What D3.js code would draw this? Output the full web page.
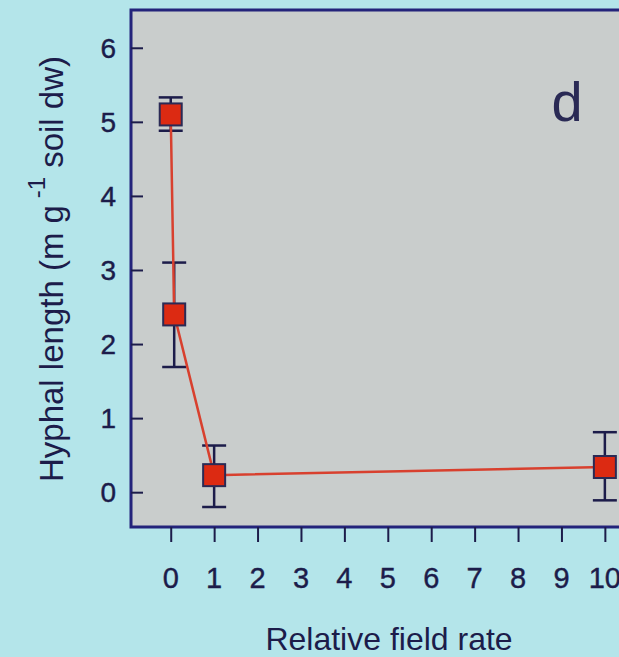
<!DOCTYPE html>
<html><head><meta charset="utf-8">
<script src="https://cdn.jsdelivr.net/npm/d3@7"></script>
<style>body{margin:0;background:#b4e5ea;overflow:hidden}svg{display:block}</style>
</head><body>
<svg id="c" width="619" height="657"></svg>
<script>
const xValues = [0, 0.08, 1, 10];
const yValues = [5.1, 2.4, 0.23, 0.34];
const errLow = [4.88, 1.69, -0.2, -0.11];
const errHigh = [5.33, 3.1, 0.63, 0.81];
const xTicks = [0,1,2,3,4,5,6,7,8,9,10];
const yTicks = [0,1,2,3,4,5,6];
const xTitle = "Relative field rate";
const panelLabel = "d";

const svg = d3.select("#c");
const L = 131, T = 10, R = 660, B = 527;
const x = d3.scaleLinear().domain([-0.915, 11.27]).range([L, R]);
const y = d3.scaleLinear().domain([-0.47, 6.51]).range([B, T]);
const ink = "#1c1c4a", frame = "#23237a";
const font = "Liberation Sans, Arial, sans-serif";

svg.append("rect").attr("width",619).attr("height",657).attr("fill","#b4e5ea");
svg.append("rect").attr("x",L).attr("y",T).attr("width",R-L).attr("height",B-T)
  .attr("fill","#c9cdcc").attr("stroke",frame).attr("stroke-width",3);

// y axis ticks inward
const ya = d3.axisRight(y).tickValues(yTicks).tickSize(12).tickFormat("");
const yg = svg.append("g").attr("transform",`translate(${L},0)`).call(ya);
yg.select(".domain").remove();
yg.selectAll("line").attr("stroke",ink).attr("stroke-width",2);
svg.selectAll(".ylab").data(yTicks).join("text").attr("class","ylab")
  .attr("x",116).attr("y",d=>y(d)).attr("dy","0.36em").attr("text-anchor","end")
  .attr("font-family",font).attr("font-size",28).attr("fill",ink)
  .attr("stroke",ink).attr("stroke-width",0.4).text(d=>d);

// x axis ticks down
const xa = d3.axisBottom(x).tickValues(xTicks).tickSize(15).tickFormat("");
const xg = svg.append("g").attr("transform",`translate(0,${B})`).call(xa);
xg.select(".domain").remove();
xg.selectAll("line").attr("stroke",ink).attr("stroke-width",2);
svg.selectAll(".xlab").data(xTicks).join("text").attr("class","xlab")
  .attr("x",d=>x(d)).attr("y",588).attr("text-anchor","middle")
  .attr("font-family",font).attr("font-size",29).attr("fill",ink)
  .attr("stroke",ink).attr("stroke-width",0.4).text(d=>d);

svg.append("text").attr("x",389).attr("y",650).attr("text-anchor","middle")
  .attr("font-family",font).attr("font-size",32).attr("fill",ink).text(xTitle);

const yt = svg.append("text").attr("transform","translate(63,269) rotate(-90)").attr("text-anchor","middle")
  .attr("font-family",font).attr("font-size",33).attr("fill",ink);
yt.append("tspan").text("Hyphal length (m g");
yt.append("tspan").attr("dy",-18).attr("font-size",24).text("  -1");
yt.append("tspan").attr("dy",18).text("  soil dw)");

svg.append("text").attr("x",567).attr("y",121).attr("text-anchor","middle")
  .attr("font-family",font).attr("font-size",56).attr("fill","#2a2a55").text(panelLabel);

const pts = xValues.map((v,i)=>({x:v,y:yValues[i],lo:errLow[i],hi:errHigh[i]}));
// error bars
const eb = svg.append("g").attr("stroke",ink).attr("stroke-width",2.5);
pts.forEach(p=>{
  eb.append("line").attr("x1",x(p.x)).attr("x2",x(p.x)).attr("y1",y(p.lo)).attr("y2",y(p.hi));
  [p.lo,p.hi].forEach(v=>eb.append("line").attr("x1",x(p.x)-12).attr("x2",x(p.x)+12).attr("y1",y(v)).attr("y2",y(v)));
});
// line
svg.append("path").datum(pts).attr("fill","none").attr("stroke","#d8402e").attr("stroke-width",2.5)
  .attr("d",d3.line().x(d=>x(d.x)).y(d=>y(d.y)));
// markers
svg.selectAll(".m").data(pts).join("rect").attr("class","m")
  .attr("x",d=>x(d.x)-11).attr("y",d=>y(d.y)-11).attr("width",22).attr("height",22)
  .attr("fill","#dc2a12").attr("stroke","#2a2a55").attr("stroke-width",2);
</script>
</body></html>
